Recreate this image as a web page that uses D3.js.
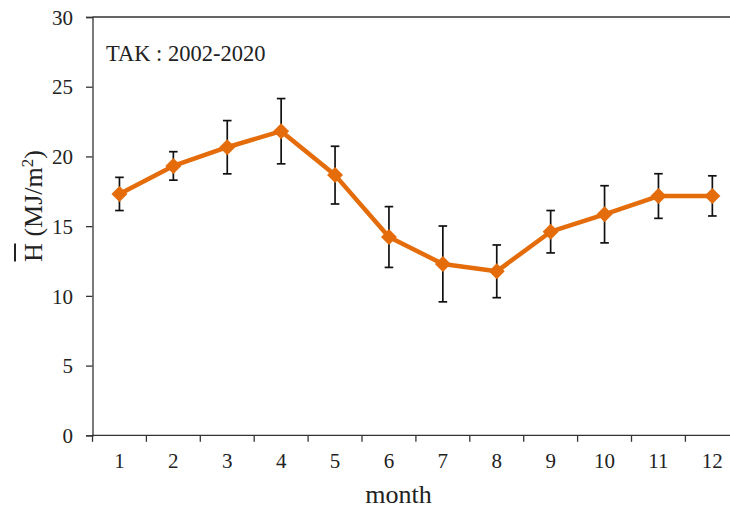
<!DOCTYPE html>
<html>
<head>
<meta charset="utf-8">
<script src="https://cdn.jsdelivr.net/npm/d3@7"></script>
<style>
  html, body { margin: 0; padding: 0; background: #fff; }
  svg { display: block; }
</style>
</head>
<body>
<svg id="chart" width="730" height="511"></svg>
<script>
// Monthly mean daily solar irradiation and its standard deviation
const months = ["1", "2", "3", "4", "5", "6", "7", "8", "9", "10", "11", "12"];
const meanH = [17.31, 19.32, 20.66, 21.81, 18.66, 14.22, 12.29, 11.76, 14.60, 15.85, 17.16, 17.17];
const sdH   = [1.19, 1.02, 1.91, 2.34, 2.07, 2.18, 2.72, 1.89, 1.52, 2.05, 1.60, 1.44];
const yTicks = [0, 5, 10, 15, 20, 25, 30];
const stationLabel = "TAK : 2002-2020";

const serif = "Liberation Serif";
const ink = "#222";
const svg = d3.select("#chart");
const plotLeft = 92.5, plotRight = 739.3, plotTop = 17, plotBottom = 435.3;
const orange = "#E46C0A";

const x = d3.scaleBand().domain(months).range([plotLeft, plotRight]);
const y = d3.scaleLinear().domain([0, 30]).range([plotBottom, plotTop]);

function label(sel, size) {
  return sel.style("font-family", serif).style("font-size", size + "px").style("fill", ink);
}

// Frame (top and right edges)
svg.append("path")
  .attr("d", `M${plotLeft},${plotTop}H${plotRight}V${plotBottom}`)
  .attr("fill", "none").attr("stroke", "#333").attr("stroke-width", 1.3);

// Y axis
const yAxis = svg.append("g")
  .attr("transform", `translate(${plotLeft},0)`)
  .call(d3.axisLeft(y).tickValues(yTicks).tickSize(6.5).tickPadding(13).tickFormat(d3.format("d")));
yAxis.select(".domain").attr("stroke", "#333").attr("stroke-width", 1.3);
yAxis.selectAll(".tick line").attr("stroke", "#333").attr("stroke-width", 1.3);
label(yAxis.selectAll(".tick text"), 21).attr("dy", "0.34em");

// X axis: ticks fall on the month boundaries
const bounds = months.map(m => x(m));
const xAxis = svg.append("g").attr("transform", `translate(0,${plotBottom})`);
xAxis.append("line").attr("x1", plotLeft).attr("x2", plotRight)
  .attr("stroke", "#333").attr("stroke-width", 1.3);
xAxis.selectAll("line.tk").data(bounds).join("line").attr("class", "tk")
  .attr("x1", d => d).attr("x2", d => d).attr("y1", 0).attr("y2", 6.5)
  .attr("stroke", "#333").attr("stroke-width", 1.3);
label(xAxis.selectAll("text").data(months).join("text"), 21)
  .attr("x", d => x(d) + x.bandwidth() / 2)
  .attr("y", 33)
  .attr("text-anchor", "middle")
  .text(d => d);

// Axis titles
label(svg.append("text"), 26)
  .attr("x", 398.5).attr("y", 503)
  .attr("text-anchor", "middle")
  .text("month");

const yTitle = svg.append("g").attr("transform", "translate(42,206) rotate(-90)");
const yt = label(yTitle.append("text"), 26).attr("text-anchor", "middle");
yt.append("tspan").text("H");
yt.append("tspan").text(" (MJ/m");
yt.append("tspan").style("font-size", "17px").attr("dy", "-0.55em").text("2");
yt.append("tspan").attr("dy", "0.36em").text(")");
// Bar over the H
const hExt = yt.node().getExtentOfChar(0);
yTitle.append("line")
  .attr("x1", hExt.x + 0.5).attr("x2", hExt.x + hExt.width - 0.5)
  .attr("y1", -27).attr("y2", -27)
  .attr("stroke", ink).attr("stroke-width", 2);

// Station / period label
label(svg.append("text"), 22.5)
  .attr("x", 106).attr("y", 61)
  .text(stationLabel);

const cx = d => x(d) + x.bandwidth() / 2;
const rows = months.map((m, i) => ({ m, v: meanH[i], s: sdH[i] }));

// Error bars (mean ± standard deviation)
const eb = svg.append("g").attr("stroke", "#111").attr("stroke-width", 1.7).attr("fill", "none");
rows.forEach(r => {
  const xc = cx(r.m), y0 = y(r.v - r.s), y1 = y(r.v + r.s);
  eb.append("line").attr("x1", xc).attr("x2", xc).attr("y1", y0).attr("y2", y1);
  eb.append("line").attr("x1", xc - 4.3).attr("x2", xc + 4.3).attr("y1", y0).attr("y2", y0);
  eb.append("line").attr("x1", xc - 4.3).attr("x2", xc + 4.3).attr("y1", y1).attr("y2", y1);
});

// Mean line
svg.append("path")
  .datum(rows)
  .attr("fill", "none").attr("stroke", orange).attr("stroke-width", 4.5)
  .attr("stroke-linejoin", "round")
  .attr("d", d3.line().x(d => cx(d.m)).y(d => y(d.v)));

// Diamond markers
svg.selectAll("path.mk").data(rows).join("path").attr("class", "mk")
  .attr("transform", d => `translate(${cx(d.m)},${y(d.v)})`)
  .attr("d", "M0,-8L8,0L0,8L-8,0Z")
  .attr("fill", orange);
</script>
</body>
</html>
